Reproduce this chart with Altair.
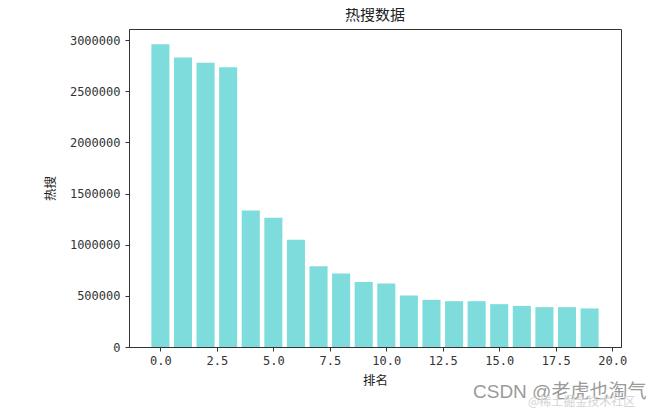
import altair as alt
import pandas as pd

ranks = list(range(20))
heat = [2961000, 2831000, 2779000, 2737000, 1334000, 1263000, 1049000, 789000,
        718000, 635000, 620000, 503000, 461000, 448000, 448000, 419000,
        402000, 390000, 390000, 377000]

title_text = "热搜数据"
x_title = "排名"
y_title = "热搜"
x_ticks = [0, 2.5, 5, 7.5, 10, 12.5, 15, 17.5, 20]
y_ticks = [0, 500000, 1000000, 1500000, 2000000, 2500000, 3000000]
watermark = "CSDN @老虎也淘气"
watermark2 = "@稀土掘金技术社区"

FONT = "Noto Sans CJK SC"
NUMFONT = "DejaVu Sans Mono"

df = pd.DataFrame({"rank": ranks, "heat": heat})

bars = alt.Chart(df).transform_calculate(
    x0="datum.rank - 0.4", x1="datum.rank + 0.4"
).mark_bar(color="#7fdcdc").encode(
    x=alt.X("x0:Q", scale=alt.Scale(domain=[-1.39, 20.39], nice=False, zero=False),
            axis=alt.Axis(values=x_ticks, format=".1f", title=x_title, grid=False,
                          tickSize=4, labelPadding=4, titlePadding=8)),
    x2="x1:Q",
    y=alt.Y("heat:Q", scale=alt.Scale(domain=[0, 3110000], nice=False, padding=0),
            axis=alt.Axis(values=y_ticks, format="d", title=y_title, grid=False,
                          tickSize=4, labelPadding=5, titlePadding=12)),
    y2=alt.datum(0),
)

wm = alt.Chart(pd.DataFrame({"t": [watermark]})).mark_text(
    align="left", baseline="middle", fontSize=19, color="#9a9a9a",
    font="Liberation Sans, Noto Sans CJK SC"
).encode(text="t:N", x=alt.value(344), y=alt.value(363))

wm2 = alt.Chart(pd.DataFrame({"t": [watermark2]})).mark_text(
    align="left", baseline="middle", fontSize=12, color="#d4d4d4", font=FONT
).encode(text="t:N", x=alt.value(399), y=alt.value(373))

chart = alt.layer(bars, wm, wm2).properties(
    width=492, height=318,
    title=alt.TitleParams(title_text, fontSize=15, font=FONT, fontWeight="normal",
                          color="#222", offset=6),
    autosize=alt.AutoSizeParams(type="none"),
    padding={"left": 121, "top": 21, "right": 31, "bottom": 66},
).configure_view(
    stroke="#333", strokeWidth=1
).configure_axis(
    domainColor="#333", tickColor="#333", labelColor="#333", titleColor="#222",
    labelFont=NUMFONT, titleFont=FONT, labelFontSize=12, titleFontSize=12.5,
    titleFontWeight="normal"
)

chart.save("out.html", embed_options={"renderer": "svg", "actions": False})
